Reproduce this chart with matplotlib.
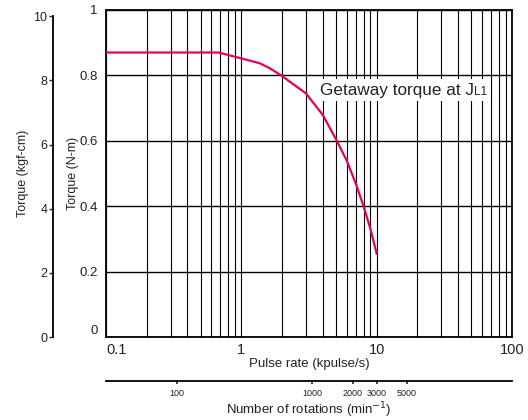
import numpy as np
import matplotlib.pyplot as plt
from matplotlib.ticker import LogLocator, NullLocator, NullFormatter
from matplotlib.offsetbox import TextArea, HPacker, AnnotationBbox

plt.rcParams['font.family'] = ['Liberation Sans', 'DejaVu Sans']
plt.rcParams['text.color'] = '#222222'
plt.rcParams['axes.labelcolor'] = '#222222'
plt.rcParams['xtick.color'] = '#222222'
plt.rcParams['ytick.color'] = '#222222'

# pull-out torque curve (kpulse/s vs N-m)
pulse_rate = [0.1, 0.68, 1.0, 1.37, 1.62, 2.0, 3.0, 4.0, 5.0, 6.0, 7.0, 8.0, 9.0, 10.0]
torque_nm = [0.870, 0.870, 0.852, 0.837, 0.822, 0.798, 0.745, 0.679, 0.605, 0.540,
             0.470, 0.400, 0.330, 0.255]

x_ticks = [0.1, 1, 10, 100]
x_labels = ['0.1', '1', '10', '100']
y_ticks = [0, 0.2, 0.4, 0.6, 0.8, 1.0]
y_labels = ['0', '0.2', '0.4', '0.6', '0.8', '1']
kgf_ticks = [0, 2, 4, 6, 8, 10]
rpm_ticks = [100, 1000, 2000, 3000, 5000]
rpm_labels = ['100', '1000', '2000', '3000', '5000']

KGF_PER_NM = 1 / 0.0980665
RPM_PER_KPPS = 300  # 1.8 deg step -> 200 pulses/rev

fig = plt.figure(figsize=(5.28, 4.2), dpi=100)
ax = fig.add_axes([106 / 528, 83 / 420, 406 / 528, 327 / 420])

ax.set_xscale('log')
ax.set_xlim(0.1, 100)
ax.set_ylim(0, 1)

ax.set_xticks(x_ticks, x_labels)
ax.xaxis.set_minor_locator(LogLocator(subs=range(2, 10)))
ax.xaxis.set_minor_formatter(NullFormatter())
ax.set_yticks(y_ticks, y_labels)
ax.tick_params(axis='both', which='both', length=0)
ax.tick_params(axis='x', labelsize=10.5, pad=4)
ax.tick_params(axis='y', labelsize=9.5, pad=6)
ax.xaxis.get_major_ticks()[0].label1.set_horizontalalignment('left')
ax.yaxis.get_major_ticks()[0].label1.set_verticalalignment('bottom')

ax.grid(which='both', axis='x', color='black', lw=0.8)
ax.grid(which='major', axis='y', color='black', lw=1.0)
for s in ax.spines.values():
    s.set_linewidth(1.3)
    s.set_color('black')

ax.plot(pulse_rate, torque_nm, color='#e4005b', lw=1.6, zorder=3)

# "Getaway torque at J" + small "L1" on a shared baseline, white box behind
label = HPacker(children=[TextArea('Getaway torque at J', textprops=dict(size=12.3, color='#222222')),
                          TextArea('L1', textprops=dict(size=8.5, color='#222222'))],
                align='baseline', pad=0, sep=0.5)
ab = AnnotationBbox(label, (3.79, 0.755), xycoords='data', box_alignment=(0, 0.5),
                    frameon=True, pad=0.25, bboxprops=dict(fc='white', ec='none'), zorder=4)
ax.add_artist(ab)

ax.set_xlabel('Pulse rate (kpulse/s)', fontsize=9.5, labelpad=1)
ax.set_ylabel('Torque (N-m)', fontsize=9, labelpad=0)

# torque in kgf-cm on an outer axis
sec = ax.secondary_yaxis(-53 / 406, functions=(lambda y: y * KGF_PER_NM,
                                                lambda y: y / KGF_PER_NM))
sec.set_yticks(kgf_ticks)
sec.yaxis.set_minor_locator(NullLocator())
sec.spines['left'].set_bounds(0, 10)
sec.spines['left'].set_linewidth(1.3)
sec.tick_params(axis='y', length=3, width=1, labelsize=9, pad=1)
sec.set_ylabel('Torque (kgf-cm)', fontsize=9, labelpad=3)

# motor speed scale under the pulse rate axis
secx = ax.secondary_xaxis(-44 / 327, functions=(lambda x: x * RPM_PER_KPPS,
                                                 lambda x: x / RPM_PER_KPPS))
secx.set_xticks(rpm_ticks, rpm_labels)
secx.xaxis.set_minor_locator(NullLocator())
secx.spines['bottom'].set_linewidth(1.3)
secx.tick_params(axis='x', length=2.5, width=1.2, labelsize=6.5, pad=3)
secx.set_xlabel('Number of rotations (min$^{-1}$)', fontsize=9.5, labelpad=2)

fig.savefig('out.png', dpi=100)
